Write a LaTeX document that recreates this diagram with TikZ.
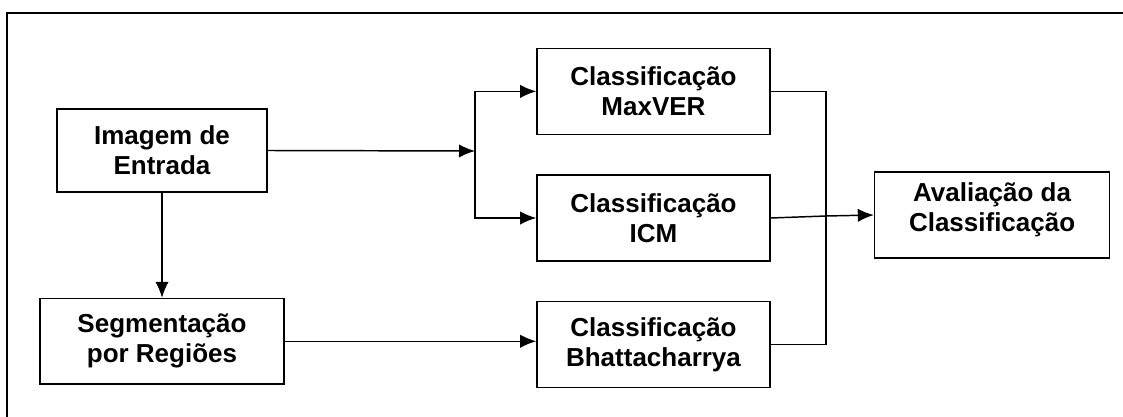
\documentclass[tikz,border=0pt]{standalone}
\usepackage{fontspec}
\setmainfont{Liberation Sans}
\usetikzlibrary{positioning,arrows.meta}
\newcommand{\bloco}[2]{#1\\#2}

\begin{document}
\begin{tikzpicture}[
    x=0.75pt, y=0.75pt,
    >={Latex[length=12pt,width=10pt]},
    line/.style={draw, line width=1.1pt},
    every node/.style={ draw,
                        line width=1.2pt,
                        align=center,
                        font=\bfseries\fontsize{19.5}{22.5}\selectfont,
                        inner sep=0pt},
    entrada/.style={minimum width=157.5pt, minimum height=62.25pt},
    classe/.style={minimum width=174.75pt, minimum height=64.5pt}]

    \useasboundingbox (0,0) rectangle (1123,-417);
    \draw[line width=1.3pt] (1123,-13) -- (7,-13) -- (7,-417);

    \node[entrada] (in) at (162,-150.5) {\bloco{Imagem de}{Entrada}};
    \node[entrada, minimum width=183pt, minimum height=64pt, below=78.75pt of in] (seg) {\bloco{Segmentação}{por Regiões}};

    \node[classe] (icm) at (653.5,-218) {\bloco{Classificação}{ICM}};
    \node[classe, above=29.25pt of icm] (mv) {\bloco{Classificação}{MaxVER}};
    \node[classe, below=29.25pt of icm] (bh) {\bloco{Classificação}{Bhattacharrya}};
    \node[classe, minimum width=176.25pt, right=77.25pt of icm, yshift=2.25pt] (av) {\bloco{Avaliação da}{Classificação}\\[-10pt]\mbox{}};

    \coordinate (split) at (475,-151);
    \coordinate (merge) at (826,-216);

    \draw[line,->] (in.east) -- (split);
    \draw[line,->] (split) |- (mv.west);
    \draw[line,->] (split) |- (icm.west);
    \draw[line,->] (in) -- (seg);
    \draw[line,->] (seg.east) -- (seg.east -| bh.west);

    \draw[line] (mv.east) -| (merge);
    \draw[line] (bh.east) -| (merge);
    \draw[line] (icm.east) -- (merge);
    \draw[line,->] (merge) -- (av.west);

\end{tikzpicture}
\end{document}
